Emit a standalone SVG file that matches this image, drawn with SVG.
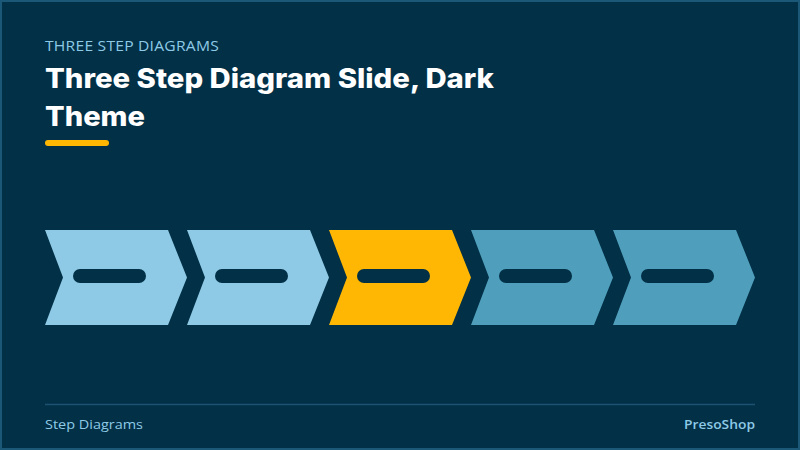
<svg xmlns="http://www.w3.org/2000/svg" width="800" height="450" viewBox="0 0 800 450">
<style>
.sub{font-family:"Open Sans","Liberation Sans",sans-serif;font-size:14px;fill:#8ecae6;letter-spacing:0.2px}
.title{font-family:Inter,"Liberation Sans",sans-serif;font-weight:800;font-size:27px;fill:#ffffff}
.foot{font-family:"Open Sans","Liberation Sans",sans-serif;font-size:13px;fill:#8ecae6}
.c-light{fill:#8ecae6}
.c-accent{fill:#ffb703}
.c-teal{fill:#4f9fbc}
.pill{fill:#023047}
</style>
<defs>
<path id="chev" d="M0,0 L123,0 L142,47.5 L123,95 L0,95 L18,47.5 Z"/>
</defs>
<rect x="0" y="0" width="800" height="450" fill="#023047"/>
<rect x="1" y="1" width="798" height="448" fill="none" stroke="#1b5878" stroke-width="2"/>
<g id="header">
<text class="sub" x="45" y="51" textLength="174" lengthAdjust="spacingAndGlyphs">THREE STEP DIAGRAMS</text>
<text class="title" x="45" y="88" textLength="449" lengthAdjust="spacingAndGlyphs">Three Step Diagram Slide, Dark</text>
<text class="title" x="45" y="126" textLength="100" lengthAdjust="spacingAndGlyphs">Theme</text>
<rect x="45" y="140" width="64" height="6" rx="3" fill="#ffb703"/>
</g>
<g id="connectors"/>
<g id="step1" transform="translate(45,230)">
<use href="#chev" class="c-light"/>
<rect class="pill" x="28" y="39" width="73" height="14" rx="7"/>
</g>
<g id="step2" transform="translate(187,230)">
<use href="#chev" class="c-light"/>
<rect class="pill" x="28" y="39" width="73" height="14" rx="7"/>
</g>
<g id="step3" transform="translate(329,230)">
<use href="#chev" class="c-accent"/>
<rect class="pill" x="28" y="39" width="73" height="14" rx="7"/>
</g>
<g id="step4" transform="translate(471,230)">
<use href="#chev" class="c-teal"/>
<rect class="pill" x="28" y="39" width="73" height="14" rx="7"/>
</g>
<g id="step5" transform="translate(613,230)">
<use href="#chev" class="c-teal"/>
<rect class="pill" x="28" y="39" width="73" height="14" rx="7"/>
</g>
<g id="footer">
<line x1="45" y1="404.5" x2="755" y2="404.5" stroke="#1d5270" stroke-width="1.5"/>
<text class="foot" x="45" y="429" textLength="98" lengthAdjust="spacingAndGlyphs">Step Diagrams</text>
<text class="foot" x="684" y="429" font-weight="600" textLength="71" lengthAdjust="spacingAndGlyphs">PresoShop</text>
</g>
</svg>
